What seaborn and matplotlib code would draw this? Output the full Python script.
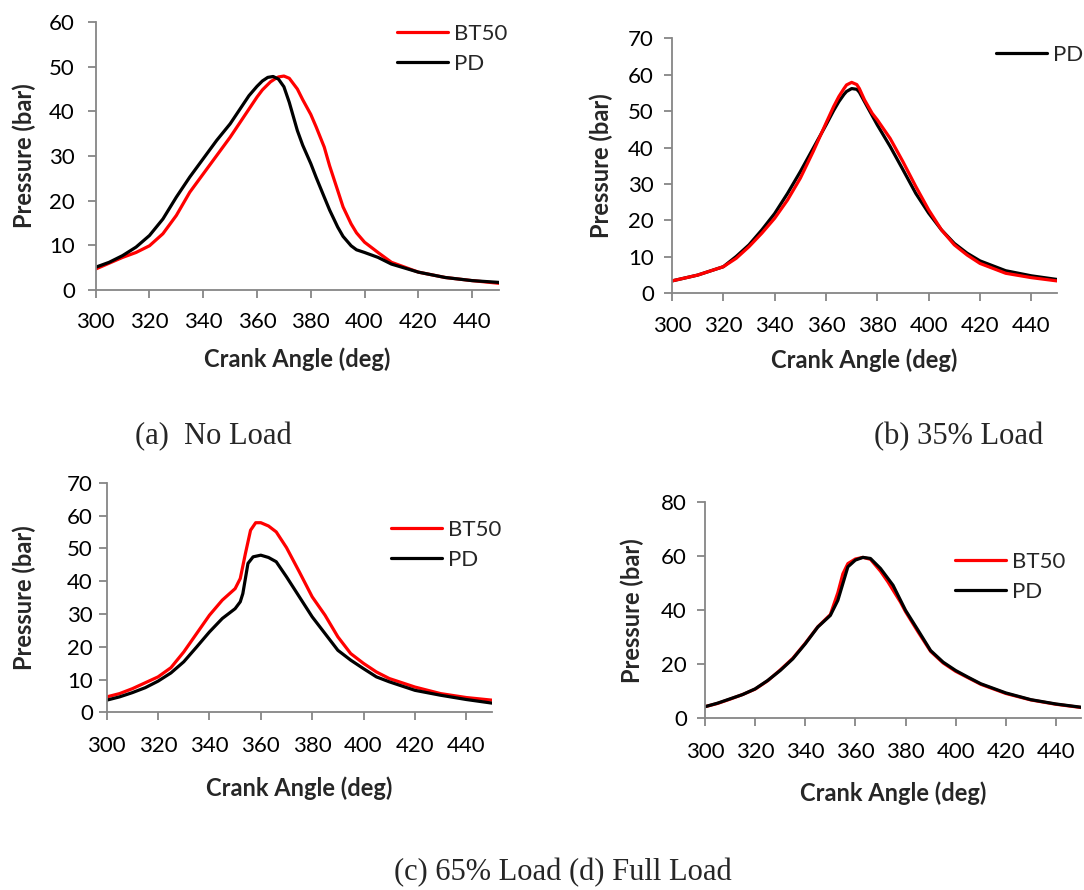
import numpy as np
import pandas as pd
import matplotlib
matplotlib.use("Agg")
import matplotlib.pyplot as plt
import seaborn as sns

# ---------------- data ----------------
# (a) No Load
a_angle_bt50 = [300, 310, 315, 320, 325, 330, 335, 340, 345, 350, 355, 360, 362, 365, 367, 368, 370, 372, 375, 377, 380, 382, 385, 387, 390, 392, 395, 397, 400, 405, 410, 420, 430, 440, 450]
a_bt50 = [4.7, 7.3, 8.4, 9.9, 12.6, 16.7, 21.9, 26.0, 30.1, 34.2, 38.7, 43.2, 44.8, 46.6, 47.4, 47.7, 47.9, 47.4, 45.0, 42.6, 39.3, 36.5, 32.0, 27.8, 22.3, 18.6, 14.8, 12.8, 10.7, 8.4, 6.2, 4.0, 2.8, 2.1, 1.5]
a_angle_pd = [300, 305, 310, 315, 320, 325, 330, 335, 340, 345, 350, 355, 357, 360, 362, 364, 366, 368, 370, 372, 375, 377, 380, 382, 385, 387, 390, 392, 395, 397, 400, 405, 410, 420, 430, 440, 450]
a_pd = [5.1, 6.2, 7.7, 9.6, 12.2, 15.9, 20.8, 25.3, 29.4, 33.5, 37.2, 41.7, 43.5, 45.6, 46.8, 47.6, 47.8, 47.2, 45.5, 42.0, 35.7, 32.4, 28.3, 25.2, 20.8, 17.9, 14.1, 12.0, 9.9, 9.0, 8.4, 7.3, 5.8, 4.0, 2.8, 2.1, 1.7]

# (b) 35% Load
b_angle_bt50 = [300, 310, 320, 325, 330, 335, 340, 345, 350, 355, 360, 363, 365, 367, 368, 370, 372, 373, 375, 378, 380, 385, 390, 395, 400, 405, 410, 415, 420, 430, 440, 450]
b_bt50 = [3.4, 5.0, 7.3, 9.6, 12.8, 16.5, 20.6, 25.6, 31.6, 38.9, 46.7, 51.3, 54.0, 56.2, 57.2, 57.9, 57.3, 56.2, 53.1, 49.4, 47.6, 42.5, 36.1, 29.3, 22.9, 17.4, 13.3, 10.5, 8.2, 5.5, 4.3, 3.4]
b_angle_pd = [300, 310, 320, 325, 330, 335, 340, 345, 350, 355, 360, 363, 365, 367, 368, 370, 372, 373, 375, 380, 385, 390, 395, 400, 405, 410, 415, 420, 430, 440, 450]
b_pd = [3.4, 5.0, 7.3, 10.1, 13.3, 17.4, 21.9, 27.4, 33.4, 39.8, 46.2, 50.2, 52.6, 54.6, 55.4, 56.2, 56.0, 55.2, 52.6, 46.2, 40.3, 33.9, 27.4, 22.0, 17.4, 13.7, 11.0, 8.9, 6.2, 4.8, 3.8]

# (c) 65% Load
c_angle_bt50 = [300, 305, 310, 315, 320, 325, 330, 335, 340, 345, 350, 352, 354, 356, 358, 360, 363, 366, 370, 375, 380, 385, 390, 395, 400, 405, 410, 420, 430, 440, 450]
c_bt50 = [4.7, 5.7, 7.2, 9.0, 10.8, 13.6, 18.4, 24.0, 29.6, 34.2, 37.7, 40.8, 48.4, 55.5, 57.8, 57.8, 56.8, 55.0, 50.2, 42.8, 35.2, 29.6, 23.0, 17.9, 14.9, 12.3, 10.3, 7.7, 5.7, 4.5, 3.7]
c_angle_pd = [300, 305, 310, 315, 320, 325, 330, 335, 340, 345, 350, 352, 353, 355, 357, 360, 363, 366, 370, 375, 380, 385, 390, 395, 400, 405, 410, 420, 430, 440, 450]
c_pd = [3.7, 4.7, 6.0, 7.5, 9.5, 12.0, 15.4, 19.9, 24.5, 28.6, 31.6, 33.7, 36.2, 45.4, 47.4, 47.9, 47.2, 45.9, 41.3, 35.2, 29.1, 24.0, 18.9, 15.9, 13.3, 10.8, 9.3, 6.7, 5.2, 3.9, 2.8]

# (d) Full Load
d_angle_bt50 = [300, 305, 310, 315, 320, 325, 330, 335, 340, 345, 350, 353, 355, 357, 360, 363, 366, 370, 373, 375, 378, 380, 385, 390, 395, 400, 405, 410, 420, 430, 440, 450]
d_bt50 = [4.3, 5.5, 7.1, 8.8, 10.8, 13.9, 17.9, 22.2, 27.8, 33.9, 38.4, 46.5, 53.5, 57.3, 59.0, 59.6, 58.9, 54.5, 50.5, 47.5, 43.0, 39.5, 32.0, 24.8, 20.5, 17.4, 15.0, 12.6, 9.2, 6.8, 5.2, 4.0]
d_angle_pd = [300, 305, 310, 315, 320, 325, 330, 335, 340, 345, 350, 353, 355, 357, 360, 363, 366, 370, 375, 380, 385, 390, 395, 400, 405, 410, 420, 430, 440, 450]
d_pd = [4.3, 5.6, 7.2, 8.8, 10.9, 14.0, 17.7, 22.0, 27.6, 33.8, 38.1, 43.7, 49.9, 56.1, 58.6, 59.6, 59.2, 55.5, 49.3, 40.0, 32.6, 25.1, 20.8, 17.7, 15.2, 12.8, 9.4, 6.9, 5.3, 4.1]

series_names = ["BT50", "PD"]
captions = ["(a)  No Load", "(b) 35% Load", "(c) 65% Load (d) Full Load"]
y_limits = [60, 70, 70, 80]
y_steps = [10, 10, 10, 20]
x_ticks = list(range(300, 441, 20))

# ---------------- style ----------------
sns.set_style("white")
plt.rcParams["font.family"] = ["Lato", "DejaVu Sans"]

W, H = 1084, 890
fig = plt.figure(figsize=(W / 100, H / 100), dpi=100)

def fx(px):
    return px / W

def fy(py):
    return 1 - py / H

def make_ax(left, right, top, bottom):
    return fig.add_axes([fx(left), fy(bottom), fx(right) - fx(left), fy(top) - fy(bottom)])

panels = [
    dict(box=(95.7, 499, 22, 290), data=[(a_angle_bt50, a_bt50, "BT50"), (a_angle_pd, a_pd, "PD")],
         order=["BT50", "PD"], legend=["BT50", "PD"], leg_xy=(397, 49.2), ylab_x=24, xlab_y=359, ypad=9, xpad=10),
    dict(box=(672, 1057, 38.3, 293.3), data=[(b_angle_pd, b_pd, "PD"), (b_angle_bt50, b_bt50, "BT50")],
         order=["PD", "BT50"], legend=["PD"], leg_xy=(996, 55), ylab_x=601, xlab_y=360, ypad=7, xpad=10),
    dict(box=(106.7, 492, 482.7, 712.3), data=[(c_angle_bt50, c_bt50, "BT50"), (c_angle_pd, c_pd, "PD")],
         order=["BT50", "PD"], legend=["BT50", "PD"], leg_xy=(391, 545), ylab_x=24, xlab_y=788, ypad=4, xpad=11),
    dict(box=(705, 1081, 502.3, 718.3), data=[(d_angle_bt50, d_bt50, "BT50"), (d_angle_pd, d_pd, "PD")],
         order=["BT50", "PD"], legend=["BT50", "PD"], leg_xy=(955, 576.7), ylab_x=632, xlab_y=793, ypad=7, xpad=11),
]

palette = {"BT50": "#FF0000", "PD": "#000000"}
axis_grey = "#868686"
fs = 16
fs_lab = 17

for i, p in enumerate(panels):
    ax = make_ax(p["box"][0], p["box"][1], p["box"][2], p["box"][3])
    frames = []
    for ang, val, name in p["data"]:
        frames.append(pd.DataFrame({"angle": ang, "pressure": val, "fuel": name}))
    df = pd.concat(frames, ignore_index=True)
    sns.lineplot(data=df, x="angle", y="pressure", hue="fuel", hue_order=p["order"],
                 palette=palette, linewidth=2.3, ax=ax, legend=False, sort=True,
                 estimator=None)
    for ln in ax.get_lines():
        ln.set_solid_joinstyle("round")
        ln.set_solid_capstyle("round")
    ax.set_xlim(300, 450)
    ax.set_ylim(0, y_limits[i])
    ax.set_xticks(x_ticks)
    ax.set_yticks(np.arange(0, y_limits[i] + 1, y_steps[i]))
    for s in ["top", "right"]:
        ax.spines[s].set_visible(False)
    for s in ["left", "bottom"]:
        ax.spines[s].set_color(axis_grey)
        ax.spines[s].set_linewidth(1.3)
    ax.tick_params(axis="both", colors=axis_grey, labelcolor="black", labelsize=fs,
                   length=6, width=1.3, direction="out")
    ax.tick_params(axis="y", pad=p["ypad"], left=True)
    ax.tick_params(axis="x", pad=p["xpad"], bottom=True)
    ax.set_xlabel("")
    ax.set_ylabel("")
    cx = (p["box"][0] + p["box"][1]) / 2
    cy = (p["box"][2] + p["box"][3]) / 2
    fig.text(fx(cx), fy(p["xlab_y"]), "Crank Angle (deg)", ha="center", va="center",
             fontsize=fs_lab, fontweight="bold")
    fig.text(fx(p["ylab_x"]), fy(cy), "Pressure (bar)", ha="center", va="center",
             rotation=90, fontsize=fs_lab, fontweight="bold")
    handles = [plt.Line2D([], [], color=palette[n], linewidth=2.3) for n in p["legend"]]
    ax.legend(handles, p["legend"], loc="center left",
              bbox_to_anchor=(fx(p["leg_xy"][0]), fy(p["leg_xy"][1])),
              bbox_transform=fig.transFigure, frameon=False, fontsize=fs,
              handlelength=2.3, handletextpad=0.25, labelspacing=0.45,
              borderpad=0, borderaxespad=0)

serif = ["Liberation Serif", "DejaVu Serif"]
fig.text(fx(135), fy(437), captions[0], ha="left", va="center", fontsize=22, family=serif)
fig.text(fx(1043), fy(437), captions[1], ha="right", va="center", fontsize=22, family=serif)
fig.text(fx(563), fy(873), captions[2], ha="center", va="center", fontsize=22, family=serif)

fig.savefig("out.png", dpi=100)
